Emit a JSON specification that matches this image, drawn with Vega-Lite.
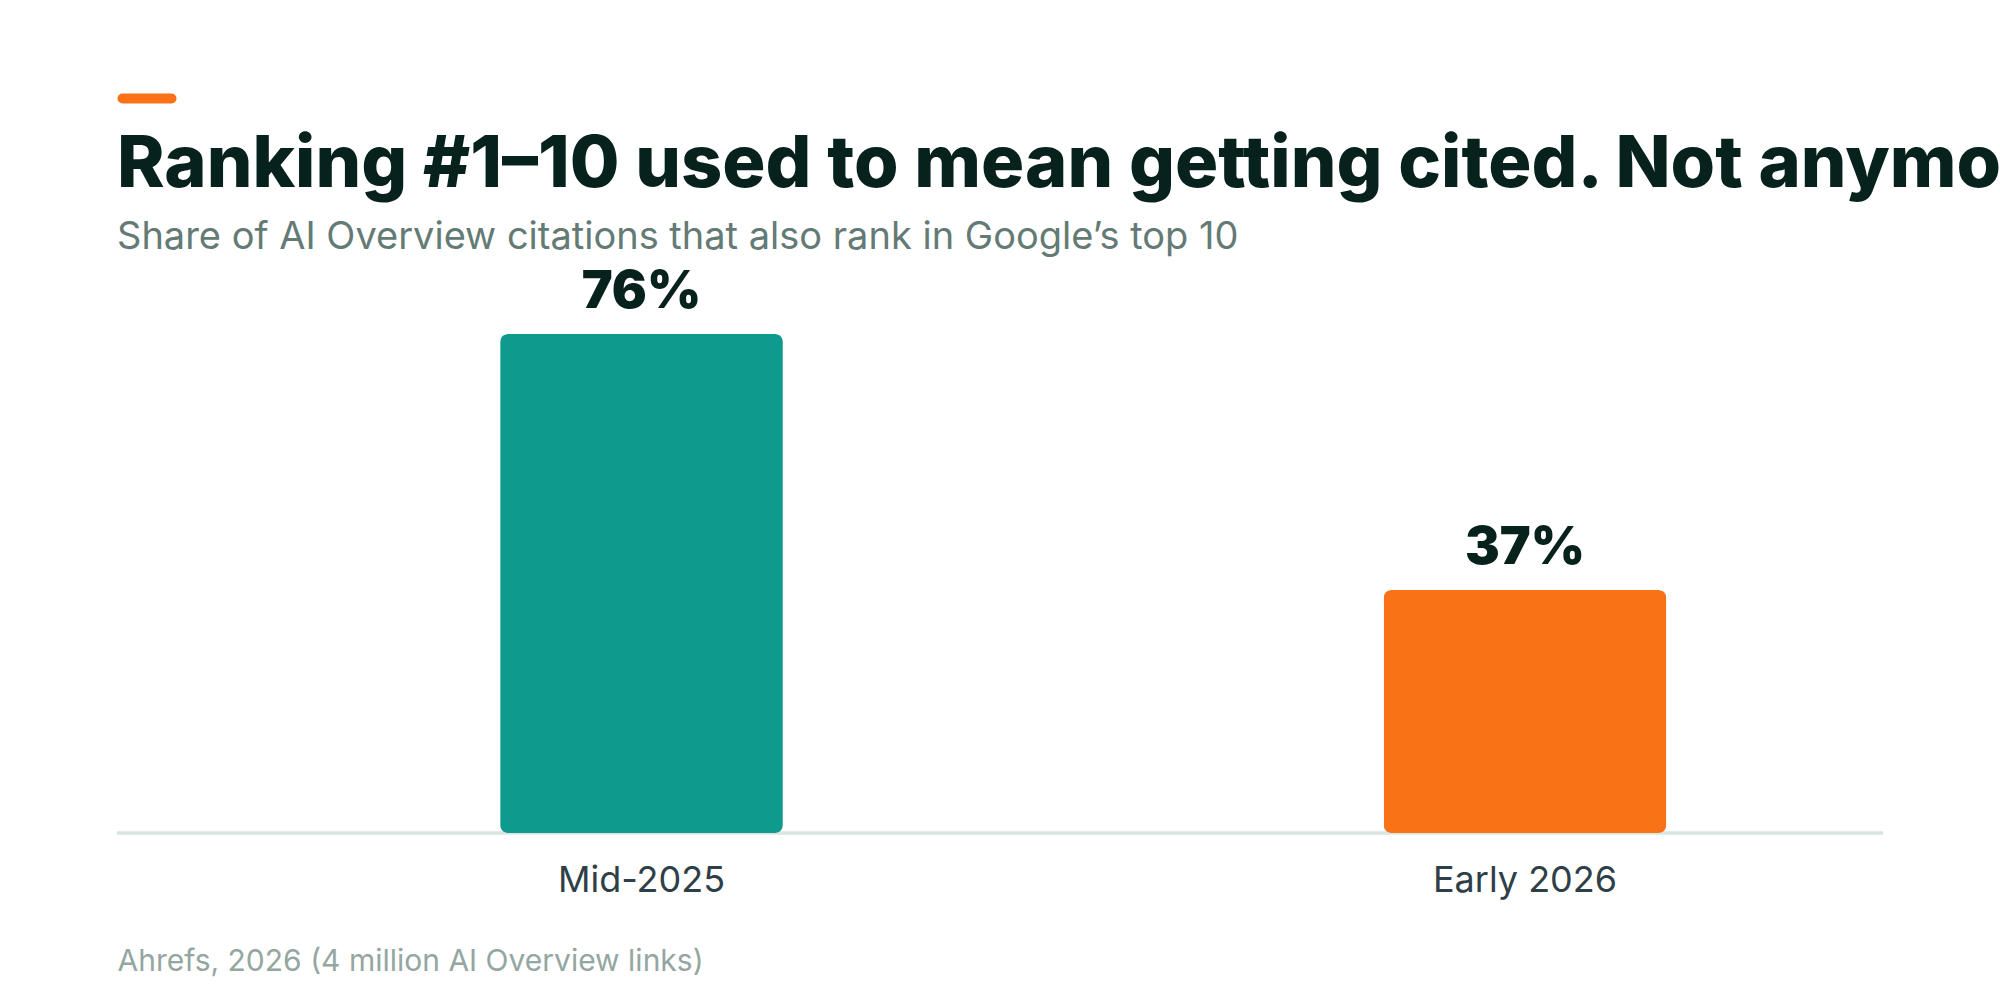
{
  "$schema": "https://vega.github.io/schema/vega-lite/v6.json",
  "autosize": {"type": "none"},
  "width": 1766,
  "height": 755,
  "padding": {"left": 117, "right": 117, "top": 78, "bottom": 167},
  "background": "#ffffff",
  "title": {
    "text": "Ranking #1–10 used to mean getting cited. Not anymore.",
    "subtitle": "Share of AI Overview citations that also rank in Google’s top 10",
    "anchor": "start",
    "frame": "group",
    "orient": "top",
    "offset": -180,
    "font": "Inter",
    "fontSize": 72,
    "fontWeight": 800,
    "color": "#07211d",
    "subtitleFont": "Inter",
    "subtitleFontSize": 38,
    "subtitleFontWeight": 400,
    "subtitleColor": "#647a75",
    "subtitlePadding": 17
  },
  "data": {
    "values": [
      {"period": "Mid-2025", "share": 76, "label": "76%"},
      {"period": "Early 2026", "share": 37, "label": "37%"}
    ]
  },
  "layer": [
    {
      "mark": {"type": "rule", "color": "#d9e5e2", "strokeWidth": 3},
      "encoding": {"y": {"datum": 0, "type": "quantitative"}}
    },
    {
      "mark": {"type": "bar", "cornerRadius": 8},
      "encoding": {
        "x": {
          "field": "period", "type": "nominal", "sort": ["Mid-2025", "Early 2026"],
          "scale": {"range": [82.75, 1849.75], "paddingInner": 0.68, "paddingOuter": 0.34},
          "axis": {
            "domain": false, "ticks": false, "grid": false, "labelAngle": 0, "labelLimit": 0,
            "labelFont": "Inter", "labelFontSize": 36, "labelColor": "#2f3f48", "labelPadding": 30,
            "title": "Ahrefs, 2026 (4 million AI Overview links)",
            "titleFont": "Inter", "titleFontSize": 30, "titleFontWeight": 400, "titleColor": "#94a6a1",
            "titleX": 0, "titleY": 137.7, "titleAlign": "left", "titleAnchor": "start", "titleBaseline": "alphabetic"
          }
        },
        "y": {
          "field": "share", "type": "quantitative",
          "scale": {"domain": [0, 115], "nice": false, "zero": true},
          "axis": {
            "values": [111.9], "labels": false, "domain": false, "grid": false, "title": null,
            "offset": -54, "tickSize": 49, "tickWidth": 10, "tickColor": "#f97316", "tickCap": "round"
          }
        },
        "color": {
          "field": "period", "type": "nominal",
          "scale": {"domain": ["Mid-2025", "Early 2026"], "range": ["#0e9b8d", "#f97316"]},
          "legend": null
        }
      }
    },
    {
      "mark": {"type": "text", "font": "Inter", "fontSize": 52, "fontWeight": 900, "color": "#07211d", "baseline": "alphabetic", "align": "center", "dy": -26},
      "encoding": {
        "x": {
          "field": "period", "type": "nominal", "sort": ["Mid-2025", "Early 2026"],
          "scale": {"range": [82.75, 1849.75], "paddingInner": 0.68, "paddingOuter": 0.34}
        },
        "y": {"field": "share", "type": "quantitative", "scale": {"domain": [0, 115], "nice": false, "zero": true}},
        "text": {"field": "label"}
      }
    }
  ],
  "config": {"view": {"stroke": null}, "axis": {"grid": false}}
}
